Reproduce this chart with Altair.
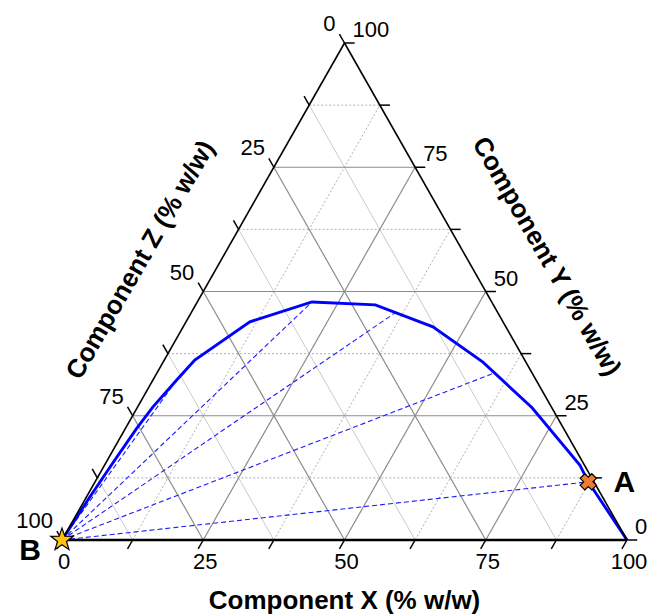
import altair as alt
import pandas as pd

# ---------------- data (ternary, % w/w) ----------------
# binodal curve: X and Y components (Z = 100 - X - Y)
binodal_x = [0.0, 0.6, 1.3, 2.0, 2.7, 4.2, 5.4, 11.3, 20.3, 31.8, 44.2, 56.6, 69.9, 84.1, 87.3, 100.0]
binodal_y = [0.0, 8.6, 16.1, 22.5, 26.8, 32.2, 36.2, 43.9, 47.9, 47.3, 42.9, 35.8, 26.6, 15.1, 11.7, 0.0]

# tie lines all start at B and end on the binodal
tie_end_x = [4.2, 20.3, 36.1, 59.7, 87.3]
tie_end_y = [32.2, 47.9, 45.7, 33.6, 11.7]

point_names = ["A", "B"]
point_x = [87.3, 0.0]
point_y = [11.7, 0.0]

tick_labels = [0, 25, 50, 75, 100]
tick_marks = [0, 12.5, 25, 37.5, 50, 62.5, 75, 87.5, 100]
grid_major = [25, 50, 75]
grid_minor = [12.5, 37.5, 62.5, 87.5]

axis_titles = ["Component X (% w/w)", "Component Y (% w/w)", "Component Z (% w/w)"]

# ---------------- layout ----------------
W, H = 650, 607
BASE_PX, HEIGHT_PX = 565.0, 497.0      # triangle size in px
LEFT_PX, BOTTOM_PX = 54.0, 532.0       # bottom-left vertex inside chart
u0 = -LEFT_PX / BASE_PX
u1 = u0 + W / BASE_PX
v0 = -(H - BOTTOM_PX) / HEIGHT_PX
v1 = v0 + H / HEIGHT_PX
TICK = 1.8  # tick length in % units


def uv(X, Y):
    return X / 100.0 + Y / 200.0, Y / 100.0


def seg(X1, Y1, X2, Y2, kind):
    a, b = uv(X1, Y1)
    c, d = uv(X2, Y2)
    return {"u": a, "v": b, "u2": c, "v2": d, "kind": kind}


xs = alt.Scale(domain=[u0, u1], nice=False, zero=False)
ys = alt.Scale(domain=[v0, v1], nice=False, zero=False)


def enc_pt():
    return dict(x=alt.X("u:Q", scale=xs, axis=None), y=alt.Y("v:Q", scale=ys, axis=None))


def enc_seg():
    return dict(x=alt.X("u:Q", scale=xs, axis=None), y=alt.Y("v:Q", scale=ys, axis=None),
                x2="u2:Q", y2="v2:Q")


# grid segments
segs = []
for t in grid_minor:
    segs.append(seg(100 - t, 0, 0, 100 - t, "minor_solid"))   # constant Z
    segs.append(seg(0, t, 100 - t, t, "minor_dot"))           # constant Y
    segs.append(seg(t, 0, t, 100 - t, "minor_dot"))           # constant X
for t in grid_major:
    segs.append(seg(100 - t, 0, 0, 100 - t, "major"))
    segs.append(seg(0, t, 100 - t, t, "major"))
    segs.append(seg(t, 0, t, 100 - t, "major"))
for t in tick_marks:
    segs.append(seg(t, 0, t, -TICK, "tick"))
    segs.append(seg(100 - t, t, 100 - t + TICK, t, "tick"))
    segs.append(seg(0, 100 - t, -TICK, 100 - t + TICK, "tick"))
segs.append(seg(0, 0, 100, 0, "edge_bottom"))
segs.append(seg(0, 0, 0, 100, "edge_side"))
segs.append(seg(100, 0, 0, 100, "edge_side"))
for ex, ey in zip(tie_end_x, tie_end_y):
    segs.append(seg(point_x[1], point_y[1], ex, ey, "tie"))
seg_df = pd.DataFrame(segs)


def rules(kind, **kw):
    return alt.Chart(seg_df).transform_filter(alt.datum.kind == kind).mark_rule(**kw).encode(**enc_seg())


minor_solid = rules("minor_solid", color="#cacaca", strokeWidth=1)
minor_dot = rules("minor_dot", color="#b0b0b0", strokeWidth=1, strokeDash=[2, 2])
major = rules("major", color="#8c8c8c", strokeWidth=1.2)
ties = rules("tie", color="#1a1aff", strokeWidth=1.1, strokeDash=[5, 3])
tick_layer = rules("tick", color="black", strokeWidth=1.5)
edge_b = rules("edge_bottom", color="black", strokeWidth=2.3)
edge_s = rules("edge_side", color="black", strokeWidth=1.6)

# binodal
bu, bv = zip(*[uv(x, y) for x, y in zip(binodal_x, binodal_y)])
bin_df = pd.DataFrame({"u": bu, "v": bv, "i": range(len(bu))})
binodal = alt.Chart(bin_df).mark_line(color="#0000ff", strokeWidth=2.9, strokeJoin="miter").encode(
    order="i:Q", **enc_pt())

# tick labels
rows = []
for t in tick_labels:
    a, b = uv(t, 0)
    rows.append({"u": a, "v": b, "lab": str(t), "axis": "X"})
    a, b = uv(100 - t, t)
    rows.append({"u": a, "v": b, "lab": str(t), "axis": "Y"})
    a, b = uv(0, 100 - t)
    rows.append({"u": a, "v": b, "lab": str(t), "axis": "Z"})
lab_df = pd.DataFrame(rows)
FONT = "Liberation Sans"


def labels(axis, **kw):
    return alt.Chart(lab_df).transform_filter(alt.datum.axis == axis).mark_text(
        font=FONT, fontSize=22, color="black", baseline="middle", **kw).encode(text="lab:N", **enc_pt())


lab_x = labels("X", align="center", dy=22, dx=2)
lab_y = labels("Y", align="left", dx=8, dy=-13)
lab_z = labels("Z", align="right", dx=-9, dy=-19)

# axis titles, anchored at the middle of their edge
tu = []
for name, (X, Y) in zip(axis_titles, [(50, 0), (50, 50), (0, 50)]):
    a, b = uv(X, Y)
    tu.append({"u": a, "v": b, "title": name})
title_df = pd.DataFrame(tu)


def title(name, **kw):
    return alt.Chart(title_df).transform_filter(alt.datum.title == name).mark_text(
        font=FONT, fontSize=26, fontWeight="bold", color="black", baseline="middle",
        align="center", **kw).encode(text="title:N", **enc_pt())


title_x = title(axis_titles[0], dy=61)
title_y = title(axis_titles[1], angle=60, dy=-70)
title_z = title(axis_titles[2], angle=300, dy=-70, dx=-4)

# markers A and B
pu, pv = zip(*[uv(x, y) for x, y in zip(point_x, point_y)])
pt_df = pd.DataFrame({"u": pu, "v": pv, "name": point_names})
STAR = ("M0,-1L0.235,-0.324L0.951,-0.309L0.38,0.124L0.588,0.809L0,0.4"
        "L-0.588,0.809L-0.38,0.124L-0.951,-0.309L-0.235,-0.324Z")
star = alt.Chart(pt_df).transform_filter(alt.datum.name == "B").mark_point(
    shape=STAR, size=560, filled=True, fill="#FFC20E", stroke="black", strokeWidth=1.2, opacity=1
).encode(**enc_pt())
cross = alt.Chart(pt_df).transform_filter(alt.datum.name == "A").mark_point(
    shape="cross", angle=45, size=270, filled=True, fill="#EE7D30", stroke="black", strokeWidth=1.2, opacity=1
).encode(**enc_pt())
name_a = alt.Chart(pt_df).transform_filter(alt.datum.name == "A").mark_text(
    font=FONT, fontSize=30, fontWeight="bold", color="black", align="center", baseline="middle", dx=36, dy=1
).encode(text="name:N", **enc_pt())
name_b = alt.Chart(pt_df).transform_filter(alt.datum.name == "B").mark_text(
    font=FONT, fontSize=30, fontWeight="bold", color="black", align="center", baseline="middle", dx=-32, dy=11
).encode(text="name:N", **enc_pt())

chart = alt.layer(
    minor_solid, minor_dot, major, ties, binodal, tick_layer, edge_b, edge_s,
    lab_x, lab_y, lab_z, title_x, title_y, title_z, star, cross, name_a, name_b
).properties(
    width=W, height=H, autosize=alt.AutoSizeParams(type="none"), padding=0, background="white"
).configure_view(stroke=None)

chart.save("out.html", embed_options={"renderer": "svg", "actions": False})
